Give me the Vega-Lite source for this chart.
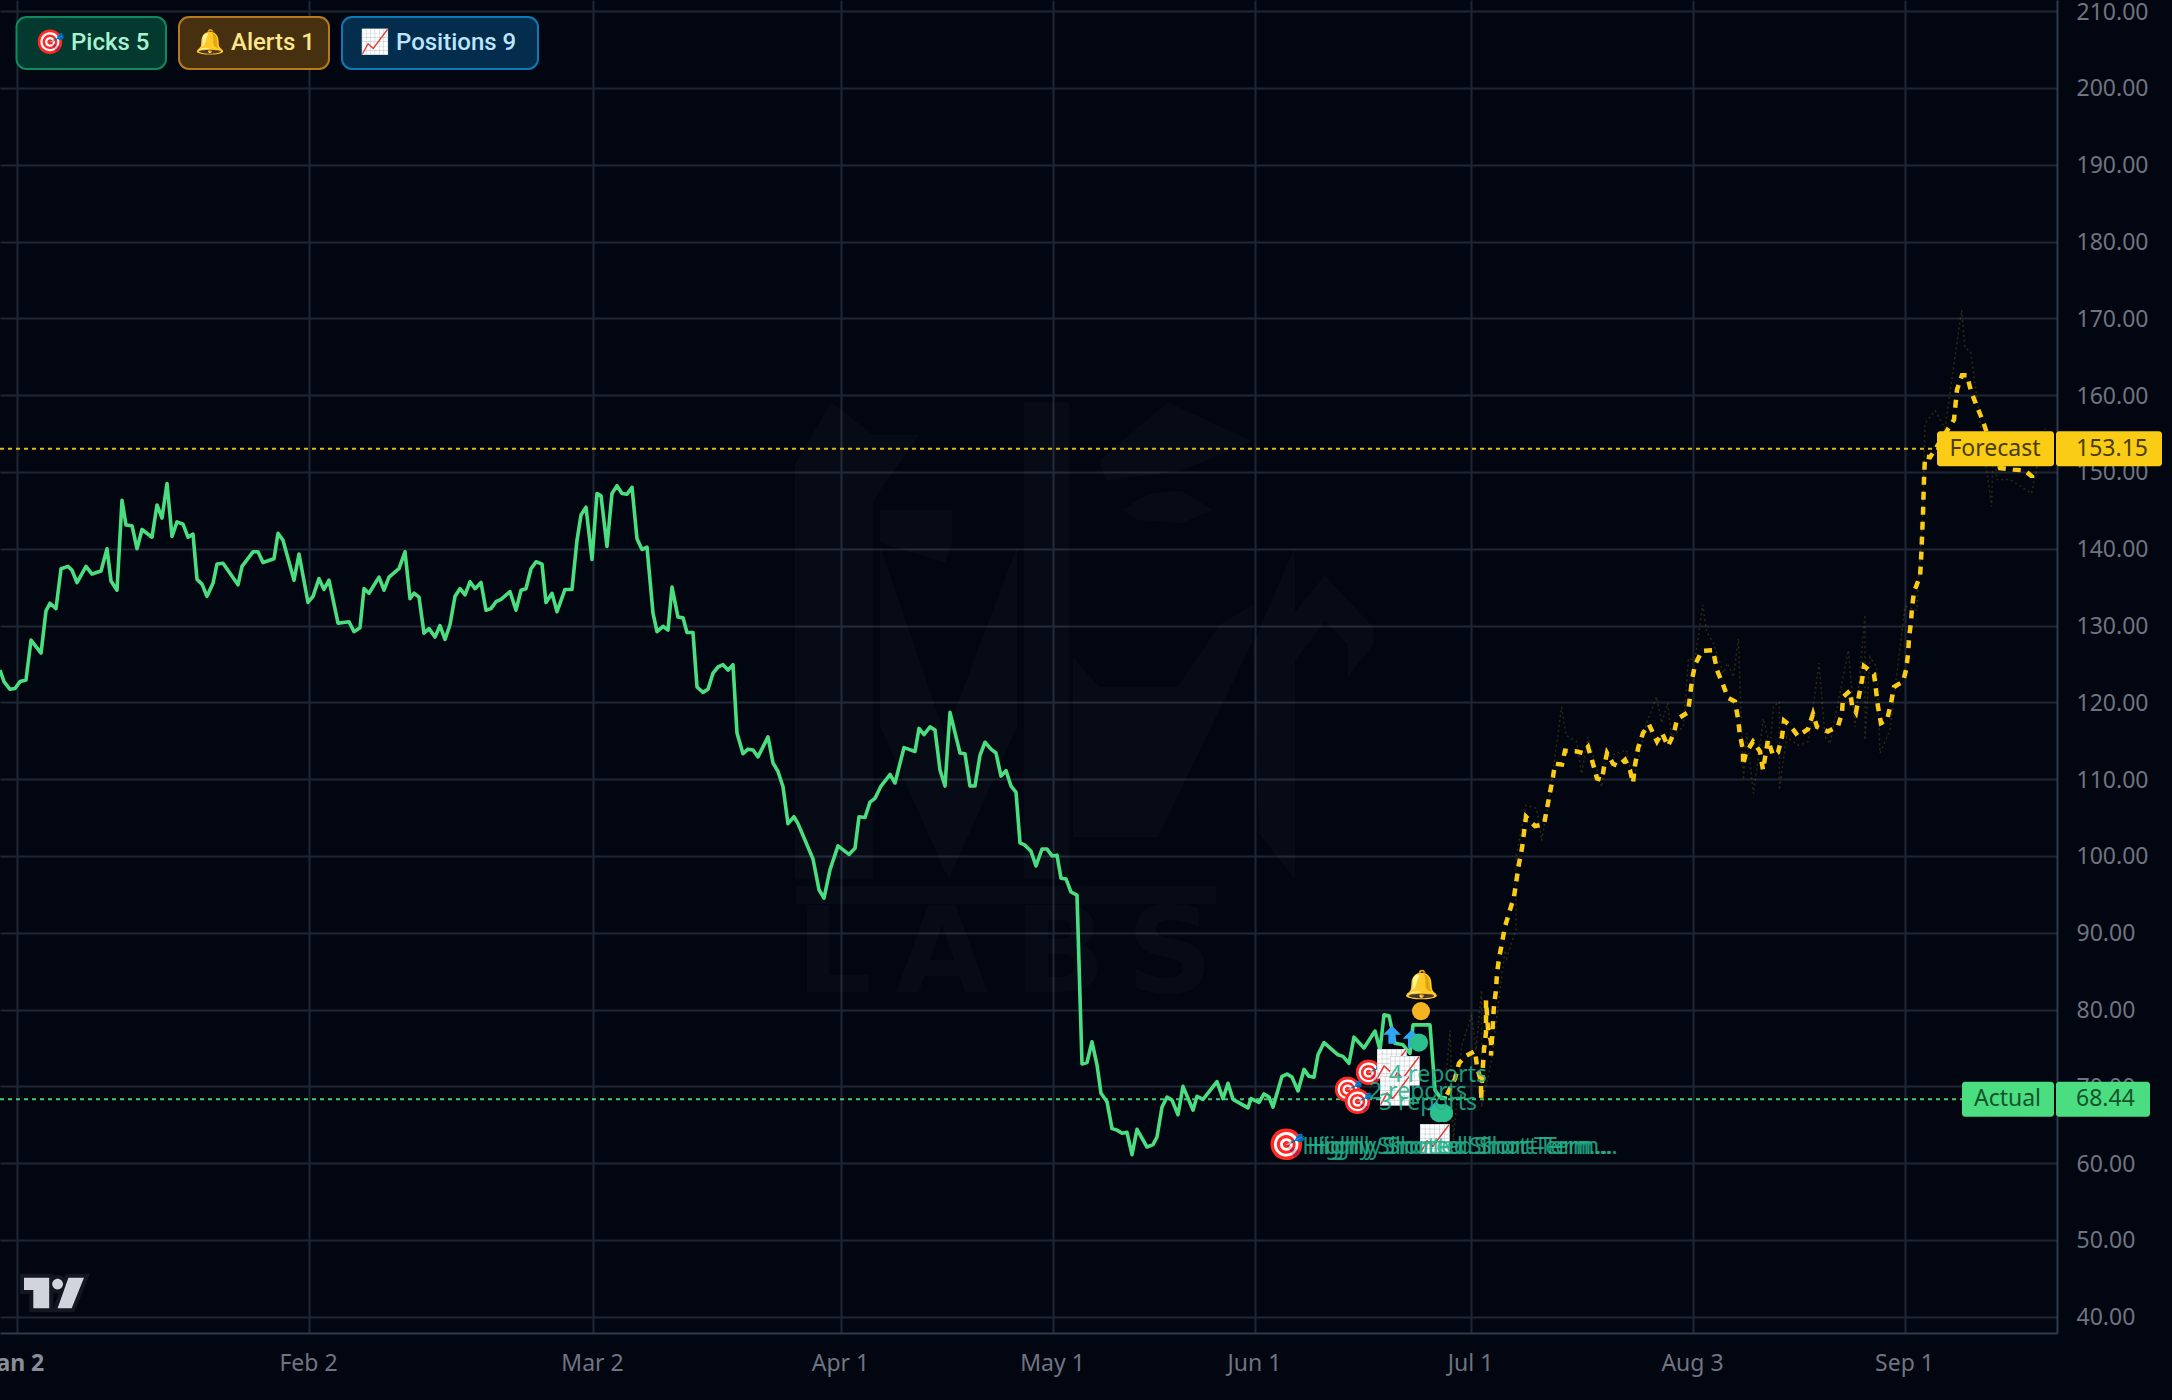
{
  "$schema": "https://vega.github.io/schema/vega-lite/v6.json",
  "description": "Actual price and dashed forecast with pick, alert and position markers, dark chart.",
  "width": 2057,
  "height": 1333,
  "autosize": "none",
  "padding": {"left": 0, "top": 0, "right": 115, "bottom": 67},
  "background": "#020610",
  "view": {"stroke": null},
  "config": {"font": "Noto Sans", "text": {"font": "Noto Sans"}},
  "datasets": {
    "actual": [
      {"bar":0,"value":124.2},{"bar":2,"value":122.7},{"bar":5,"value":121.7},{"bar":7.5,"value":121.8},{"bar":10,"value":122.7},{"bar":13,"value":122.9},{"bar":15.5,"value":128.1},{"bar":20.5,"value":126.4},{"bar":23,"value":131.9},{"bar":25,"value":132.9},{"bar":28,"value":132.2},{"bar":30.5,"value":137.4},{"bar":34,"value":137.7},{"bar":36,"value":137.2},{"bar":38.5,"value":135.6},{"bar":43,"value":137.7},{"bar":46,"value":136.7},{"bar":50.5,"value":137.1},{"bar":53.5,"value":140},{"bar":55.5,"value":135.8},{"bar":58.5,"value":134.6},{"bar":61,"value":146.3},{"bar":63,"value":143.1},{"bar":66,"value":143},{"bar":68.5,"value":140},{"bar":71,"value":142.5},{"bar":76,"value":141.5},{"bar":78.5,"value":145.7},{"bar":81,"value":144},{"bar":83.5,"value":148.5},{"bar":86,"value":141.6},{"bar":88.5,"value":143.5},{"bar":91.5,"value":143.2},{"bar":94,"value":141.5},{"bar":96.5,"value":141.9},{"bar":98.5,"value":136},{"bar":101,"value":135.4},{"bar":103.5,"value":133.8},{"bar":106.5,"value":135.5},{"bar":108.5,"value":138},{"bar":111.5,"value":138.1},{"bar":119,"value":135.3},{"bar":121,"value":137.7},{"bar":126.5,"value":139.6},{"bar":129,"value":139.6},{"bar":131.5,"value":138.2},{"bar":137,"value":138.7},{"bar":139,"value":142},{"bar":141.5,"value":141.1},{"bar":147,"value":135.9},{"bar":149.5,"value":139.3},{"bar":154,"value":133},{"bar":156.5,"value":133.8},{"bar":159.5,"value":136.1},{"bar":162,"value":134.7},{"bar":164.5,"value":135.9},{"bar":169,"value":130.3},{"bar":174.5,"value":130.5},{"bar":177,"value":129.2},{"bar":180,"value":129.7},{"bar":182,"value":134.8},{"bar":184.5,"value":134.2},{"bar":189.5,"value":136.3},{"bar":192,"value":134.6},{"bar":194.5,"value":136.3},{"bar":199.5,"value":137.4},{"bar":202.5,"value":139.6},{"bar":205,"value":133.5},{"bar":207,"value":134.2},{"bar":209.5,"value":133.7},{"bar":212,"value":129},{"bar":214.5,"value":129.6},{"bar":217.5,"value":128.5},{"bar":220,"value":130},{"bar":222.5,"value":128.2},{"bar":225,"value":130.1},{"bar":227.5,"value":133.8},{"bar":230,"value":134.8},{"bar":232.5,"value":134},{"bar":235,"value":135.7},{"bar":237.5,"value":134.8},{"bar":240.5,"value":135.6},{"bar":243,"value":132},{"bar":245.5,"value":132.2},{"bar":248,"value":133.1},{"bar":250.5,"value":133.4},{"bar":255,"value":134.4},{"bar":258,"value":132},{"bar":260.5,"value":134.6},{"bar":263,"value":134.8},{"bar":265.5,"value":137.4},{"bar":268,"value":138.3},{"bar":271,"value":138},{"bar":273,"value":133},{"bar":276,"value":134.2},{"bar":278.5,"value":131.8},{"bar":282.5,"value":134.7},{"bar":286,"value":134.7},{"bar":288.5,"value":141.1},{"bar":290.5,"value":144.4},{"bar":293,"value":145.4},{"bar":296,"value":138.6},{"bar":298.5,"value":147.2},{"bar":300.5,"value":146.9},{"bar":303.5,"value":140.3},{"bar":306,"value":147.2},{"bar":308.5,"value":148.2},{"bar":311,"value":147.2},{"bar":313.5,"value":147.1},{"bar":316,"value":148},{"bar":318.5,"value":141.3},{"bar":321,"value":139.9},{"bar":323.5,"value":140.2},{"bar":326.5,"value":131.6},{"bar":328.5,"value":129.2},{"bar":331.5,"value":129.9},{"bar":334,"value":129.4},{"bar":336,"value":135},{"bar":339,"value":131.1},{"bar":341.5,"value":131},{"bar":343.5,"value":129.1},{"bar":346.5,"value":129.1},{"bar":348.5,"value":122},{"bar":351.5,"value":121.3},{"bar":354,"value":121.7},{"bar":356.5,"value":123.8},{"bar":359,"value":124.6},{"bar":361.5,"value":124.9},{"bar":364,"value":124.2},{"bar":366.5,"value":124.9},{"bar":368.5,"value":116},{"bar":371.5,"value":113.3},{"bar":374,"value":113.9},{"bar":376.5,"value":113.8},{"bar":379,"value":112.9},{"bar":384,"value":115.5},{"bar":386.5,"value":112.1},{"bar":389,"value":111},{"bar":391.5,"value":109},{"bar":394,"value":104.2},{"bar":397,"value":105.1},{"bar":399,"value":104.2},{"bar":406.5,"value":99.6},{"bar":409.5,"value":95.6},{"bar":412,"value":94.5},{"bar":415,"value":98.2},{"bar":419,"value":101.3},{"bar":424.5,"value":100.2},{"bar":427.5,"value":101},{"bar":429.5,"value":105.1},{"bar":432.5,"value":105},{"bar":435,"value":107},{"bar":437.5,"value":107.5},{"bar":440.5,"value":109.1},{"bar":445,"value":110.6},{"bar":447.5,"value":109.5},{"bar":452,"value":114.1},{"bar":457.5,"value":113.6},{"bar":459.5,"value":116.6},{"bar":462,"value":115.8},{"bar":465,"value":116.8},{"bar":467.5,"value":116.4},{"bar":470,"value":111.2},{"bar":472.5,"value":109.1},{"bar":475,"value":118.7},{"bar":480,"value":113.4},{"bar":482.5,"value":113.3},{"bar":485,"value":109.1},{"bar":487.5,"value":109.1},{"bar":490,"value":113.1},{"bar":492.5,"value":114.8},{"bar":495.5,"value":113.9},{"bar":498,"value":113.4},{"bar":500.5,"value":110.4},{"bar":503,"value":111.1},{"bar":505.5,"value":109.1},{"bar":508,"value":108.3},{"bar":510,"value":101.7},{"bar":512.5,"value":101.4},{"bar":515.5,"value":100.6},{"bar":518,"value":98.7},{"bar":521,"value":100.9},{"bar":523.5,"value":100.9},{"bar":526,"value":100},{"bar":528.5,"value":100.1},{"bar":530.5,"value":97.1},{"bar":533,"value":97},{"bar":535.5,"value":95.3},{"bar":538.5,"value":94.9},{"bar":541,"value":72.9},{"bar":543.5,"value":73.1},{"bar":546,"value":75.8},{"bar":548.5,"value":72.8},{"bar":550.5,"value":69.1},{"bar":553.5,"value":68},{"bar":556,"value":64.5},{"bar":558.5,"value":64.3},{"bar":561,"value":63.9},{"bar":563.5,"value":64},{"bar":566,"value":61.1},{"bar":568.5,"value":64.4},{"bar":573.5,"value":62.1},{"bar":576.5,"value":62.4},{"bar":578.5,"value":63.4},{"bar":581,"value":67.3},{"bar":583.5,"value":68.6},{"bar":586,"value":68.2},{"bar":589,"value":66.3},{"bar":591.5,"value":70},{"bar":596.5,"value":66.9},{"bar":598.5,"value":68.7},{"bar":601.5,"value":68.3},{"bar":608.5,"value":70.6},{"bar":611.5,"value":68.4},{"bar":614,"value":70.4},{"bar":616.5,"value":68.3},{"bar":624,"value":67.2},{"bar":625.5,"value":68.4},{"bar":629.5,"value":67.9},{"bar":632,"value":69},{"bar":634.5,"value":68.6},{"bar":636.5,"value":67.3},{"bar":641,"value":71.3},{"bar":643.5,"value":71.6},{"bar":646,"value":71.2},{"bar":649,"value":69.4},{"bar":652,"value":72.2},{"bar":654.5,"value":71.3},{"bar":657,"value":71.2},{"bar":659,"value":74.1},{"bar":662,"value":75.7},{"bar":669,"value":74.1},{"bar":671.5,"value":73.9},{"bar":674.5,"value":73},{"bar":677,"value":76.4},{"bar":682,"value":75},{"bar":687.5,"value":77.2},{"bar":690,"value":74.7},{"bar":692,"value":79.3},{"bar":694.5,"value":79.2},{"bar":697.5,"value":75.6},{"bar":701.5,"value":75.4},{"bar":705,"value":74.3},{"bar":706.5,"value":78},{"bar":715,"value":78},{"bar":717.5,"value":69.5},{"bar":720,"value":68.6},{"bar":723.5,"value":68.44}
    ],
    "forecast": [
      {"bar":723.5,"value":68.9},{"bar":727.5,"value":71},{"bar":729.5,"value":73},{"bar":732.5,"value":73.9},{"bar":737.5,"value":74.6},{"bar":738.5,"value":72.6},{"bar":740.5,"value":70.6},{"bar":740.5,"value":68.3},{"bar":741.5,"value":72.8},{"bar":742,"value":74.8},{"bar":743,"value":77},{"bar":743,"value":79.7},{"bar":743,"value":81.2},{"bar":744,"value":77.5},{"bar":745.5,"value":75.8},{"bar":745.5,"value":74},{"bar":746.5,"value":78.4},{"bar":747,"value":80.6},{"bar":748,"value":82.5},{"bar":748.5,"value":84.7},{"bar":749.5,"value":86.6},{"bar":752.5,"value":90.8},{"bar":757,"value":94.7},{"bar":759.5,"value":99},{"bar":761,"value":101},{"bar":763,"value":105.1},{"bar":767.5,"value":103.9},{"bar":772,"value":104.1},{"bar":773.5,"value":106.2},{"bar":776.5,"value":110.3},{"bar":777.5,"value":112},{"bar":781,"value":111.9},{"bar":782.5,"value":113.7},{"bar":788.5,"value":113.6},{"bar":791.5,"value":113.4},{"bar":794,"value":114.2},{"bar":796.5,"value":112},{"bar":798.5,"value":110.1},{"bar":801,"value":109.9},{"bar":802,"value":111.6},{"bar":803.5,"value":113.4},{"bar":806.5,"value":112},{"bar":809,"value":111.7},{"bar":812.5,"value":112.5},{"bar":815,"value":111.2},{"bar":816.5,"value":109.5},{"bar":817.5,"value":111.8},{"bar":819,"value":114},{"bar":821.5,"value":116},{"bar":824.5,"value":117.1},{"bar":828.5,"value":114.9},{"bar":831,"value":116},{"bar":834,"value":114.3},{"bar":837,"value":116},{"bar":838.5,"value":117.8},{"bar":844,"value":118.7},{"bar":845,"value":120.7},{"bar":846,"value":122.9},{"bar":847.5,"value":124.9},{"bar":851,"value":126.7},{"bar":856.5,"value":126.8},{"bar":858.5,"value":124.2},{"bar":861.5,"value":122.3},{"bar":864,"value":120.6},{"bar":867.5,"value":120.1},{"bar":869,"value":117.9},{"bar":870,"value":115.7},{"bar":871.5,"value":113.8},{"bar":871.5,"value":111.8},{"bar":873,"value":113.4},{"bar":876.5,"value":114.9},{"bar":880,"value":113.6},{"bar":881.5,"value":111.2},{"bar":884,"value":115.1},{"bar":886.5,"value":113.1},{"bar":889,"value":113.5},{"bar":891,"value":115.5},{"bar":892,"value":117.6},{"bar":895,"value":117},{"bar":899,"value":115.6},{"bar":904,"value":116.5},{"bar":906.5,"value":118.5},{"bar":908.5,"value":116.8},{"bar":914,"value":116.2},{"bar":919,"value":116.9},{"bar":921,"value":118.6},{"bar":921.5,"value":120.7},{"bar":925,"value":121.5},{"bar":926,"value":119.6},{"bar":928,"value":118.7},{"bar":929.5,"value":120.9},{"bar":931,"value":122.9},{"bar":932,"value":124.7},{"bar":937,"value":123.7},{"bar":938,"value":121.6},{"bar":939,"value":119.4},{"bar":940.5,"value":117.3},{"bar":943.5,"value":117.7},{"bar":945.5,"value":119.9},{"bar":947,"value":122},{"bar":951.5,"value":122.7},{"bar":953,"value":124.2},{"bar":954,"value":126.2},{"bar":954.5,"value":128.3},{"bar":955.5,"value":130.5},{"bar":956,"value":132.3},{"bar":957,"value":134.4},{"bar":960,"value":136.4},{"bar":960.5,"value":138.3},{"bar":961.5,"value":144.6},{"bar":962,"value":149},{"bar":962.5,"value":152},{"bar":965,"value":151.9},{"bar":977,"value":156.8},{"bar":978.5,"value":160.7},{"bar":981,"value":162.6},{"bar":983.5,"value":162.6},{"bar":985.5,"value":160.5},{"bar":988.5,"value":158.5},{"bar":991.5,"value":156.6},{"bar":993.5,"value":155},{"bar":1000,"value":150.5},{"bar":1006.5,"value":150.3},{"bar":1012.5,"value":150.2},{"bar":1016,"value":149.4},{"bar":1016,"value":148.7}
    ],
    "rawForecast": [
      {"bar":722.5,"value":69.5},{"bar":725,"value":77.3},{"bar":726.7,"value":63},{"bar":730.8,"value":75.2},{"bar":735.8,"value":79.3},{"bar":738,"value":74.7},{"bar":740.8,"value":82.5},{"bar":740.8,"value":67.3},{"bar":745.8,"value":73.4},{"bar":750,"value":82.5},{"bar":752.5,"value":87.7},{"bar":753.3,"value":86.7},{"bar":758,"value":90.4},{"bar":758,"value":99.9},{"bar":763,"value":106.6},{"bar":768.3,"value":106.2},{"bar":770.8,"value":102},{"bar":775,"value":108.1},{"bar":780.8,"value":119.4},{"bar":783,"value":115.7},{"bar":788.3,"value":114.9},{"bar":790.8,"value":110.7},{"bar":794,"value":115.5},{"bar":800.8,"value":109},{"bar":803.3,"value":112.9},{"bar":813.3,"value":113.8},{"bar":816.3,"value":109.5},{"bar":823.3,"value":117.3},{"bar":828.3,"value":120.7},{"bar":830.8,"value":117.3},{"bar":833.8,"value":119.9},{"bar":835.8,"value":115.5},{"bar":841.7,"value":116.8},{"bar":844.2,"value":125.7},{"bar":847.5,"value":125.5},{"bar":851.3,"value":132.7},{"bar":853.3,"value":129.2},{"bar":856.7,"value":127.7},{"bar":861.7,"value":123.8},{"bar":863.7,"value":125.1},{"bar":866.7,"value":123.3},{"bar":869.2,"value":128.3},{"bar":871.7,"value":109.9},{"bar":873.3,"value":116},{"bar":876.7,"value":108.1},{"bar":881.7,"value":117.9},{"bar":885,"value":114.2},{"bar":886.7,"value":119.4},{"bar":889.7,"value":120.1},{"bar":889.7,"value":108.6},{"bar":893.3,"value":115.5},{"bar":899.2,"value":114.4},{"bar":904.2,"value":114.9},{"bar":909.5,"value":125.1},{"bar":912.5,"value":115.5},{"bar":915,"value":114.6},{"bar":924.2,"value":126.8},{"bar":927.5,"value":116.8},{"bar":932.5,"value":131.4},{"bar":932.5,"value":115.1},{"bar":935,"value":125.9},{"bar":938.3,"value":124.6},{"bar":940,"value":113.4},{"bar":945,"value":116.4},{"bar":952.5,"value":132.5},{"bar":958.3,"value":132},{"bar":961.3,"value":144},{"bar":962.5,"value":156.3},{"bar":967.5,"value":158},{"bar":972.5,"value":155.7},{"bar":980.8,"value":171.1},{"bar":982.5,"value":166.1},{"bar":985.3,"value":165.7},{"bar":996.7,"value":155},{"bar":995.8,"value":145.5},{"bar":998.3,"value":149},{"bar":1005,"value":149},{"bar":1015.8,"value":147.2},{"bar":1022.5,"value":155.7}
    ],
    "levels": [
      {"label":"Forecast","value":153.15},
      {"label":"Actual","value":68.44}
    ],
    "targets": [
      {"bar":684,"value":71.7,"icon":"🎯"},{"bar":673.5,"value":69.5,"icon":"🎯"},{"bar":678.5,"value":68,"icon":"🎯"}
    ],
    "charts": [
      {"bar":696,"value":72.8,"icon":"📈"},{"bar":702.5,"value":71.8,"icon":"📈"},{"bar":697.5,"value":69.3,"icon":"📈"},{"bar":717.5,"value":63,"icon":"📈"}
    ],
    "notes": [
      {"bar":719,"value":71.5,"label":"4 reports"},{"bar":709,"value":69.3,"label":"2 reports"},{"bar":714,"value":67.8,"label":"3 reports"},
      {"bar":727.5,"value":62.15,"label":"Highly Shorted Short-Term..."},{"bar":730,"value":62.15,"label":"Highly Shorted Short-Term..."},{"bar":732.5,"value":62.15,"label":"Highly Shorted Short-Term..."}
    ],
    "arrows": [
      {"bar":696,"value":76.7},{"bar":705.8,"value":76.2},{"bar":701.7,"value":73.4},{"bar":718,"value":66.9}
    ],
    "holdings": [
      {"bar":709.5,"value":75.7},{"bar":719.5,"value":66.5},{"bar":722,"value":66.5}
    ]
  },
  "layer": [
    {
      "encoding": {
        "x": {
          "field": "bar",
          "type": "quantitative",
          "title": null,
          "scale": {"domain": [0, 1028.5], "nice": false, "zero": false},
          "axis": {
            "orient": "bottom",
            "values": [8.5, 154.5, 296.5, 420.5, 526.5, 627.5, 735.5, 846.5, 952.5],
            "labelExpr": "['Jan 2','Feb 2','Mar 2','Apr 1','May 1','Jun 1','Jul 1','Aug 3','Sep 1'][indexof([8.5,154.5,296.5,420.5,526.5,627.5,735.5,846.5,952.5],datum.value)]",
            "grid": true,
            "gridColor": "#1e2634",
            "gridWidth": 2,
            "ticks": false,
            "domainColor": "#2f3a4d",
            "domainWidth": 2,
            "labelColor": {"condition": {"test": "datum.value === 8.5", "value": "#8a8e99"}, "value": "#6f7480"},
            "labelFontWeight": {"condition": {"test": "datum.value === 8.5", "value": "bold"}, "value": "normal"},
            "labelFontSize": 23,
            "labelFont": "Noto Sans",
            "labelPadding": 19,
            "labelOffset": -1,
            "labelOverlap": false,
            "labelBound": false,
            "labelFlush": false
          }
        },
        "y": {
          "field": "value",
          "type": "quantitative",
          "title": null,
          "scale": {"domain": [37.88, 211.45], "nice": false, "zero": false},
          "axis": {
            "orient": "right",
            "values": [40,50,60,70,80,90,100,110,120,130,140,150,160,170,180,190,200,210],
            "format": ".2f",
            "grid": true,
            "gridColor": "#1e2634",
            "gridWidth": 2,
            "ticks": false,
            "domainColor": "#2f3a4d",
            "domainWidth": 2,
            "labelColor": "#6f7480",
            "labelFontSize": 23,
            "labelFont": "Noto Sans",
            "labelPadding": 19,
            "labelOffset": 1,
            "labelOverlap": false,
            "labelBound": false,
            "labelFlush": false
          }
        }
      },
      "layer": [
        {
          "data": {"values": [{"bar": 543, "value": 128}]},
          "mark": {"type": "point", "filled": true, "fill": "#ffffff", "fillOpacity": 0.022, "strokeWidth": 0, "size": 427716,
            "shape": "M-.89,-.54L-.78,-.73L-.65,-.63L-.51,-.63L-.65,-.43L-.65,.73L-.89,.73ZM-.63,-.29L-.43,.29L-.21,-.29L-.21,.26L-.42,.73L-.63,.26ZM-.63,-.4L-.41,-.4L-.41,-.3L-.43,-.24L-.63,-.3ZM-.19,-.73L-.05,-.73L-.05,.73L-.19,.73ZM.04,-.55L.25,-.73L.51,-.61L.29,-.52L.06,-.49ZM.11,-.4L.19,-.45L.29,-.46L.39,-.4L.29,-.36L.16,-.37ZM-.04,.05L.04,.14L.28,.14L.41,-.05L.51,-.11L.51,0L.22,.6L-.04,.6ZM.64,-.29L.64,-.09L.73,-.2L.88,-.04L.88,.01L.8,.11L.8,.01L.73,-.06L.64,.06L.64,.73L.53,.59L.51,.01Z"}
        },
        {
          "data": {"values": [{"label": "L", "bar": 417, "value": 87}, {"label": "A", "bar": 471, "value": 87}, {"label": "B", "bar": 530, "value": 87}, {"label": "S", "bar": 585, "value": 87}]},
          "mark": {"type": "text", "font": "DejaVu Sans", "fontSize": 120, "fontWeight": "bold", "fill": "#ffffff", "fillOpacity": 0.022, "baseline": "middle"},
          "encoding": {"text": {"field": "label"}}
        }
      ]
    },
    {
      "data": {"values": [{"name": "band"}]},
      "mark": {"type": "rect", "fill": "#ffffff", "fillOpacity": 0.022},
      "encoding": {
        "x": {"datum": 398, "type": "quantitative", "title": null},
        "x2": {"datum": 608},
        "y": {"datum": 96.1, "type": "quantitative", "title": null},
        "y2": {"datum": 93.7}
      }
    },
    {
      "data": {"name": "levels"},
      "transform": [{"filter": "datum.label === 'Forecast'"}],
      "mark": {"type": "rule", "color": "#facc15", "strokeWidth": 2, "strokeDash": [4, 4], "opacity": 0.9, "yOffset": 1},
      "encoding": {"x": {"datum": 0, "type": "quantitative", "title": null}, "x2": {"datum": 1028}, "y": {"field": "value", "type": "quantitative", "title": null}}
    },
    {
      "data": {"name": "levels"},
      "transform": [{"filter": "datum.label === 'Actual'"}],
      "mark": {"type": "rule", "color": "#4ade80", "strokeWidth": 2, "strokeDash": [4, 4], "opacity": 0.9, "yOffset": 1},
      "encoding": {"x": {"datum": 0, "type": "quantitative", "title": null}, "x2": {"datum": 1028}, "y": {"field": "value", "type": "quantitative", "title": null}}
    },
    {
      "encoding": {
        "x": {"field": "bar", "type": "quantitative", "title": null},
        "y": {"field": "value", "type": "quantitative", "title": null}
      },
      "layer": [
        {
          "data": {"name": "rawForecast"},
          "mark": {"type": "line", "color": "#facc15", "opacity": 0.18, "strokeWidth": 1.5, "strokeDash": [2, 3]}
        },
        {
          "data": {"name": "actual"},
          "mark": {"type": "line", "color": "#4ade80", "strokeWidth": 3.6, "strokeJoin": "round"}
        },
        {
          "data": {"name": "forecast"},
          "mark": {"type": "line", "color": "#facc15", "strokeWidth": 4.5, "strokeDash": [8, 7]}
        },
        {
          "data": {"name": "arrows"},
          "mark": {"type": "point", "filled": true, "color": "#2ea6f5", "size": 324, "opacity": 1, "strokeWidth": 0,
            "shape": "M0,-1L1,0L.4,0L.4,1L-.4,1L-.4,0L-1,0Z"}
        },
        {
          "data": {"values": [{"bar": 710.5, "value": 79.8}]},
          "mark": {"type": "point", "shape": "circle", "filled": true, "color": "#f5b324", "size": 330, "opacity": 1}
        },
        {
          "data": {"name": "holdings"},
          "mark": {"type": "point", "shape": "circle", "filled": true, "color": "#2dc08f", "size": 330, "opacity": 1}
        },
        {
          "data": {"values": [{"bar": 643, "value": 62.25, "icon": "🎯"}]},
          "mark": {"type": "text", "fontSize": 31, "baseline": "middle"},
          "encoding": {"text": {"field": "icon"}}
        },
        {
          "data": {"name": "targets"},
          "mark": {"type": "text", "fontSize": 25, "baseline": "middle"},
          "encoding": {"text": {"field": "icon"}}
        },
        {
          "data": {"name": "charts"},
          "mark": {"type": "text", "fontSize": 27, "baseline": "middle"},
          "encoding": {"text": {"field": "icon"}}
        },
        {
          "data": {"values": [{"bar": 710.5, "value": 83, "icon": "🔔"}]},
          "mark": {"type": "text", "fontSize": 28, "baseline": "middle"},
          "encoding": {"text": {"field": "icon"}}
        },
        {
          "data": {"name": "notes"},
          "mark": {"type": "text", "fontSize": 23, "baseline": "middle", "color": "#22b08a", "opacity": 0.85},
          "encoding": {"text": {"field": "label"}}
        },
        {
          "data": {"values": [{"bar": 27, "value": 43.08}]},
          "mark": {"type": "point", "filled": true, "fill": "#131722", "stroke": "#131722", "strokeWidth": 8, "opacity": 1, "size": 3600,
            "shape": "M-1,-.51L-.16,-.51L-.16,.51L-.69,.51L-.69,-.1L-1,-.1ZM.48,-.51L1,-.51L.59,.51L.12,.51ZM.3,-.3A.18,.18,0,1,1,-.06,-.3A.18,.18,0,1,1,.3,-.3Z"}
        },
        {
          "data": {"values": [{"bar": 27, "value": 43.08}]},
          "mark": {"type": "point", "filled": true, "fill": "#d1d4dc", "strokeWidth": 0, "opacity": 1, "size": 3600,
            "shape": "M-1,-.51L-.16,-.51L-.16,.51L-.69,.51L-.69,-.1L-1,-.1ZM.48,-.51L1,-.51L.59,.51L.12,.51ZM.3,-.3A.18,.18,0,1,1,-.06,-.3A.18,.18,0,1,1,.3,-.3Z"}
        }
      ]
    },
    {
      "data": {"name": "levels"},
      "transform": [{"filter": "datum.label === 'Forecast'"}],
      "encoding": {"y": {"field": "value", "type": "quantitative", "title": null}},
      "layer": [
        {
          "mark": {"type": "rect", "color": "#facc15", "opacity": 1, "height": 35, "cornerRadius": 3, "yOffset": 1},
          "encoding": {"x": {"datum": 968.5, "type": "quantitative", "title": null}, "x2": {"datum": 1027}}
        },
        {
          "mark": {"type": "rect", "color": "#facc15", "opacity": 1, "height": 35, "cornerRadius": 3, "yOffset": 1},
          "encoding": {"x": {"datum": 1028, "type": "quantitative", "title": null}, "x2": {"datum": 1081}}
        },
        {
          "mark": {"type": "text", "fontSize": 23, "color": "#4a3c05", "baseline": "middle", "yOffset": 1},
          "encoding": {"x": {"datum": 997.5, "type": "quantitative", "title": null}, "text": {"field": "label"}}
        },
        {
          "mark": {"type": "text", "fontSize": 23, "color": "#4a3c05", "baseline": "middle", "align": "left", "yOffset": 1},
          "encoding": {"x": {"datum": 1038, "type": "quantitative", "title": null}, "text": {"field": "value", "type": "quantitative", "format": ".2f"}}
        }
      ]
    },
    {
      "data": {"name": "levels"},
      "transform": [{"filter": "datum.label === 'Actual'"}],
      "encoding": {"y": {"field": "value", "type": "quantitative", "title": null}},
      "layer": [
        {
          "mark": {"type": "rect", "color": "#4ade80", "opacity": 1, "height": 35, "cornerRadius": 3, "yOffset": 1},
          "encoding": {"x": {"datum": 981, "type": "quantitative", "title": null}, "x2": {"datum": 1027}}
        },
        {
          "mark": {"type": "rect", "color": "#4ade80", "opacity": 1, "height": 35, "cornerRadius": 3, "yOffset": 1},
          "encoding": {"x": {"datum": 1028, "type": "quantitative", "title": null}, "x2": {"datum": 1075}}
        },
        {
          "mark": {"type": "text", "fontSize": 23, "color": "#14532d", "baseline": "middle", "yOffset": 1},
          "encoding": {"x": {"datum": 1003.75, "type": "quantitative", "title": null}, "text": {"field": "label"}}
        },
        {
          "mark": {"type": "text", "fontSize": 23, "color": "#14532d", "baseline": "middle", "align": "left", "yOffset": 1},
          "encoding": {"x": {"datum": 1038, "type": "quantitative", "title": null}, "text": {"field": "value", "type": "quantitative", "format": ".2f"}}
        }
      ]
    },
    {
      "data": {"values": [{"label": "🎯 Picks 5"}]},
      "encoding": {"y": {"datum": 205.85, "type": "quantitative", "title": null}},
      "layer": [
        {
          "mark": {"type": "rect", "fill": "#04392f", "stroke": "#0e8a5f", "strokeWidth": 2, "opacity": 1, "height": 52, "cornerRadius": 10},
          "encoding": {"x": {"datum": 8.25, "type": "quantitative", "title": null}, "x2": {"datum": 83}}
        },
        {
          "mark": {"type": "text", "font": "Roboto", "fontWeight": 500, "fontSize": 24, "color": "#a7f3d0", "align": "left", "baseline": "middle"},
          "encoding": {"x": {"datum": 17.5, "type": "quantitative", "title": null}, "text": {"field": "label"}}
        }
      ]
    },
    {
      "data": {"values": [{"label": "🔔 Alerts 1"}]},
      "encoding": {"y": {"datum": 205.85, "type": "quantitative", "title": null}},
      "layer": [
        {
          "mark": {"type": "rect", "fill": "#47300f", "stroke": "#b7791f", "strokeWidth": 2, "opacity": 1, "height": 52, "cornerRadius": 10},
          "encoding": {"x": {"datum": 89.5, "type": "quantitative", "title": null}, "x2": {"datum": 164.5}}
        },
        {
          "mark": {"type": "text", "font": "Roboto", "fontWeight": 500, "fontSize": 24, "color": "#fde68a", "align": "left", "baseline": "middle"},
          "encoding": {"x": {"datum": 97.5, "type": "quantitative", "title": null}, "text": {"field": "label"}}
        }
      ]
    },
    {
      "data": {"values": [{"label": "📈 Positions 9"}]},
      "encoding": {"y": {"datum": 205.85, "type": "quantitative", "title": null}},
      "layer": [
        {
          "mark": {"type": "rect", "fill": "#032c4d", "stroke": "#0a7ab8", "strokeWidth": 2, "opacity": 1, "height": 52, "cornerRadius": 10},
          "encoding": {"x": {"datum": 171, "type": "quantitative", "title": null}, "x2": {"datum": 269}}
        },
        {
          "mark": {"type": "text", "font": "Roboto", "fontWeight": 500, "fontSize": 24, "color": "#bae6fd", "align": "left", "baseline": "middle"},
          "encoding": {"x": {"datum": 180, "type": "quantitative", "title": null}, "text": {"field": "label"}}
        }
      ]
    }
  ]
}
